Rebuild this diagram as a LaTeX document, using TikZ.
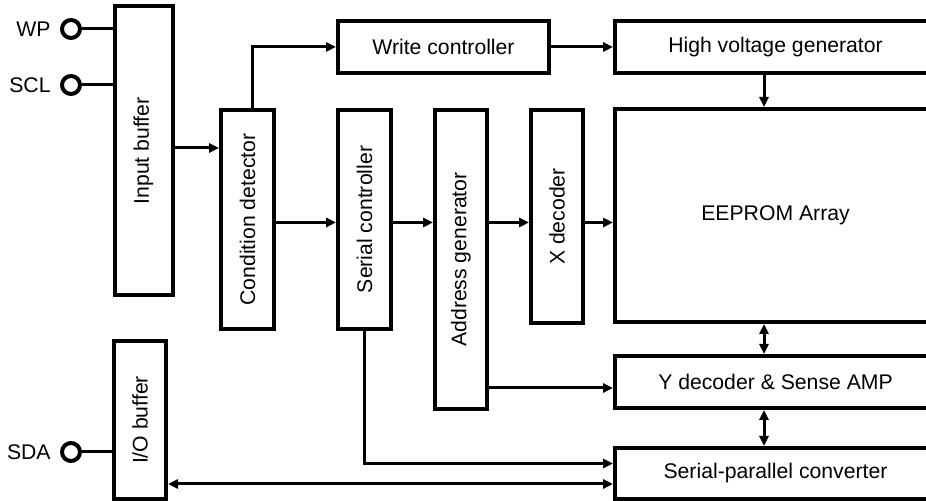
\documentclass[tikz,border=0pt]{standalone}
\usepackage{fontspec}
\setmainfont{Liberation Sans}
\usetikzlibrary{arrows.meta}
\begin{document}
\begin{tikzpicture}[x=0.5pt,y=-0.5pt,
  box/.style={draw, line width=2pt, inner sep=0pt},
  txt/.style={inner sep=0pt, font=\fontsize{10.6}{12}\selectfont},
  vtxt/.style={txt, rotate=90},
  pinc/.style={draw, circle, line width=2pt, minimum size=9pt, inner sep=0pt},
  conn/.style={line width=1.5pt},
  arr/.style={conn, -{Triangle[length=5pt,width=4.5pt]}},
  darr/.style={conn, {Triangle[length=5pt,width=4.5pt]}-{Triangle[length=5pt,width=4.5pt]}}]
\useasboundingbox (0,0) rectangle (926,501);
\clip (0,0) rectangle (926,501);

% boxes
\node[box, minimum width=29pt, minimum height=144.5pt] (ib) at (143.5,151) {};
\node[vtxt] (ibt) at (ib) {Input buffer};
\node[box, minimum width=26.5pt, minimum height=109.5pt] (cd) at (247.5,219.5) {};
\node[vtxt] (cdt) at (cd) {Condition detector};
\node[box, minimum width=105.5pt, minimum height=26pt] (wc) at (443.5,47) {};
\node[txt] (wct) at (wc) {Write controller};
\node[box, minimum width=160.5pt, minimum height=26pt] (hvg) at (775.5,47) {};
\node[txt] (hvgt) at (hvg) {High voltage generator};
\node[box, minimum width=26.5pt, minimum height=109.5pt] (sc) at (364.5,219.5) {};
\node[vtxt] (sct) at (sc) {Serial controller};
\node[box, minimum width=26pt, minimum height=149.5pt] (ag) at (461,259.5) {};
\node[vtxt] (agt) at (ag) {Address generator};
\node[box, minimum width=26pt, minimum height=106.5pt] (xd) at (557,216.5) {};
\node[vtxt] (xdt) at (xd) {X decoder};
\node[box, minimum width=160.5pt, minimum height=106.5pt] (ee) at (775.5,215.5) {};
\node[txt] (eet) at (ee) {EEPROM Array};
\node[box, minimum width=160.5pt, minimum height=26pt] (yd) at (775.5,382) {};
\node[txt] (ydt) at (yd) {Y decoder \& Sense AMP};
\node[box, minimum width=160.5pt, minimum height=25.5pt] (spc) at (775.5,473.5) {};
\node[txt] (spct) at (spc) {Serial-parallel converter};
\node[box, minimum width=26pt, minimum height=79pt] (io) at (140,420) {};
\node[vtxt] (iot) at (io) {I/O buffer};

% pins
\node[pinc] (wp) at (71,29) {};
\node[txt, anchor=east] (wpl) at ([xshift=-4.5pt]wp.west) {WP};
\node[pinc] (scl) at (71,85) {};
\node[txt, anchor=east] (scll) at ([xshift=-4.5pt]scl.west) {SCL};
\node[pinc] (sda) at (71,452) {};
\node[txt, anchor=east] (sdal) at ([xshift=-4.5pt]sda.west) {SDA};

\draw[conn] (wp) -- (wp -| ib.west);
\draw[conn] (scl) -- (scl -| ib.west);
\draw[conn] (sda) -- (sda -| io.west);

% helper coordinates
\coordinate (y148) at (0,148);
\coordinate (x252) at (252,0);
\coordinate (xm) at (764,0);
\coordinate (y222) at (0,222.5);
\coordinate (y388) at (0,388);
\coordinate (y463) at (0,463.5);
\coordinate (y484) at (0,484);

% connectors
\draw[arr] (ib.east |- y148) -- (cd.west |- y148);
\draw[arr] (cd.north -| x252) |- (wc.west);
\draw[arr] (wc.east) -- (hvg.west |- wc.east);
\draw[arr] (hvg.south -| xm) -- (ee.north -| xm);
\draw[arr] (cd.east |- y222) -- (sc.west |- y222);
\draw[arr] (sc.east |- y222) -- (ag.west |- y222);
\draw[arr] (ag.east |- y222) -- (xd.west |- y222);
\draw[arr] (xd.east |- y222) -- (ee.west |- y222);
\draw[arr] (ag.east |- y388) -- (yd.west |- y388);
\draw[darr] (ee.south -| xm) -- (yd.north -| xm);
\draw[darr] (yd.south -| xm) -- (spc.north -| xm);
\draw[arr] (sc.south) |- (spc.west |- y463);
\draw[darr] (io.east |- y484) -- (spc.west |- y484);
\end{tikzpicture}
\end{document}
